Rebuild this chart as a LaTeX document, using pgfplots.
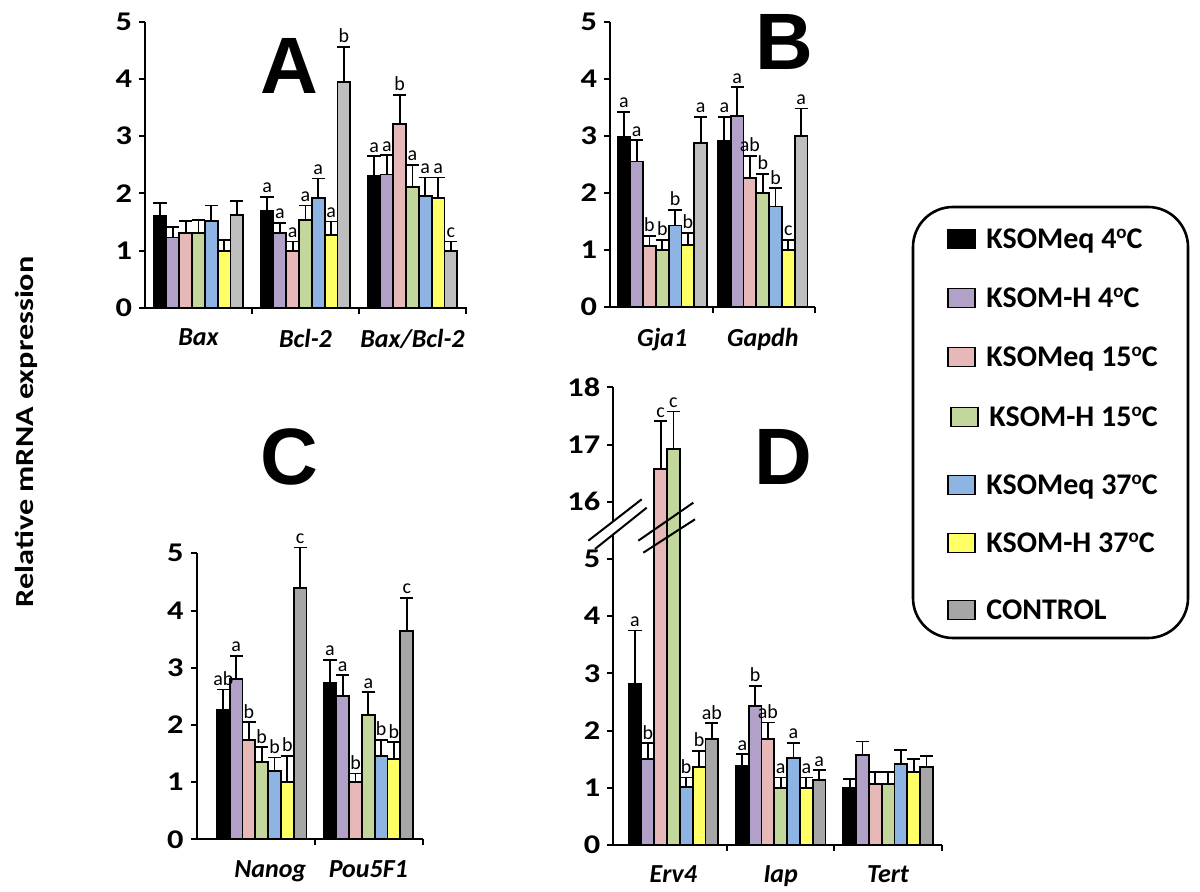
\documentclass[border=0pt]{standalone}
\usepackage{fontspec}
\setmainfont{Carlito}
\newfontfamily\arialfont{Liberation Sans}
\usepackage{pgfplots}
\usepackage{pgfplotstable}
\pgfplotsset{compat=1.18}
\usepackage{graphicx}

\definecolor{c1}{HTML}{000000}
\definecolor{c2}{HTML}{B1A0C7}
\definecolor{c3}{HTML}{E6B9B8}
\definecolor{c4}{HTML}{C3D69B}
\definecolor{c5}{HTML}{8EB4E3}
\definecolor{c6}{HTML}{FFFF66}
\definecolor{c7}{HTML}{A6A6A6}
\definecolor{c7l}{HTML}{BEBEBE}

\newcommand{\degC}{\raisebox{5.2pt}{\fontsize{9.5}{9.5}\selectfont o}C}
\newcommand{\sx}[1]{\scalebox{1.2}[1]{#1}}

% columns: v = mean, e = upper error, l = letter
\pgfplotstableread{
x v1 e1 l1 v2 e2 l2 v3 e3 l3 v4 e4 l4 v5 e5 l5 v6 e6 l6 v7 e7 l7
0 1.60 0.23 {} 1.23 0.18 {} 1.31 0.21 {} 1.31 0.23 {} 1.52 0.27 {} 1.00 0.19 {} 1.62 0.25 {}
1 1.70 0.24 a 1.31 0.18 a 1.00 0.16 a 1.54 0.25 a 1.92 0.34 a 1.28 0.23 a 3.95 0.61 b
2 2.30 0.35 a 2.33 0.34 a 3.21 0.51 b 2.12 0.38 a 1.95 0.33 a 1.92 0.36 a 1.00 0.16 c
}\tabA
\pgfplotstableread{
x v1 e1 l1 v2 e2 l2 v3 e3 l3 v4 e4 l4 v5 e5 l5 v6 e6 l6 v7 e7 l7
0 2.98 0.44 a 2.55 0.37 a 1.07 0.18 b 1.00 0.18 b 1.43 0.27 b 1.09 0.21 b 2.88 0.45 a
1 2.91 0.42 a 3.35 0.50 a 2.26 0.39 ab 2.00 0.33 b 1.76 0.32 b 1.00 0.18 c 3.00 0.48 a
}\tabB
\pgfplotstableread{
x v1 e1 l1 v2 e2 l2 v3 e3 l3 v4 e4 l4 v5 e5 l5 v6 e6 l6 v7 e7 l7
0 2.27 0.35 ab 2.80 0.41 a 1.74 0.31 b 1.35 0.26 b 1.20 0.23 b 1.00 0.46 b 4.40 0.70 c
1 2.73 0.41 a 2.51 0.36 a 1.00 0.15 b 2.17 0.40 a 1.46 0.28 b 1.40 0.30 b 3.64 0.58 c
}\tabC
\pgfplotstableread{
x v1 e1 l1 v2 e2 l2 v3 e3 l3 v4 e4 l4 v5 e5 l5 v6 e6 l6 v7 e7 l7
0 2.82 0.93 a 1.51 0.27 b 16.58 0.83 c 16.92 0.66 c 1.01 0.17 b 1.36 0.29 b 1.85 0.28 ab
1 1.39 0.20 a 2.43 0.35 b 1.85 0.29 ab 1.00 0.18 a 1.52 0.27 a 1.00 0.18 a 1.14 0.17 a
2 1.00 0.16 {} 1.57 0.24 {} 1.07 0.20 {} 1.07 0.20 {} 1.41 0.25 {} 1.28 0.23 {} 1.37 0.19 {}
}\tabD

\pgfplotsset{
  panel/.style={
    scale only axis, clip=false,
    axis lines=left, axis line style={line width=1pt,-},
    ymin=0, ybar=0pt, bar width=6.4pt,
    tick align=outside, major tick length=3pt,
    tick style={black, line width=1pt},
    yticklabel style={font=\bfseries\fontsize{13.5}{13.5}\selectfont},
    /pgf/number format/assume math mode=true,
    xticklabels={{},{},{},{}},
    extra x tick style={major tick length=0pt,
      xticklabel style={font=\bfseries\itshape\fontsize{13}{13}\selectfont, yshift=-7pt}},
    nodes near coords, point meta=explicit symbolic,
    every node near coord/.append style={font=\fontsize{10}{10}\selectfont,
      anchor=south, inner sep=1.5pt, yshift=\myerr*28.6pt},
  },
  barstyle/.style={draw=black, line width=0.9pt,
    error bars/.cd, y dir=plus, y explicit,
    error bar style={line width=0.9pt, black},
    error mark options={rotate=90, mark size=3.3pt, line width=0.9pt, black}},
}

\newcommand{\ser}[3]{%
  \addplot[fill=#2, visualization depends on={\thisrow{e#1} \as \myerr}, barstyle]
    table[x=x, y=v#1, y error=e#1, meta=l#1]{#3};}
\newcommand{\serD}[3]{%
  \addplot[fill=#2, visualization depends on={\thisrow{e#1} \as \myerr}, barstyle]
    table[x=x, y expr={\thisrow{v#1}>10 ? \thisrow{v#1}-10 : \thisrow{v#1}}, y error=e#1, meta=l#1]{#3};}
\newcommand{\allser}[2]{%
  \ser{1}{c1}{#1}\ser{2}{c2}{#1}\ser{3}{c3}{#1}\ser{4}{c4}{#1}%
  \ser{5}{c5}{#1}\ser{6}{c6}{#1}\ser{7}{#2}{#1}}

\begin{document}
\begin{tikzpicture}
\useasboundingbox (0,0) rectangle (600pt,-446pt);

% Panel A
\begin{axis}[panel, at={(72.5pt,-154pt)}, anchor=south west,
  width=161pt, height=143.15pt, xmin=-0.5, xmax=2.51, ymax=5,
  ytick={0,1,2,3,4,5}, yticklabels={\sx0,\sx1,\sx2,\sx3,\sx4,\sx5},
  xtick={0.5,1.5,2.5},
  extra x ticks={0,1,2}, extra x tick labels={Bax,Bcl-2,Bax/Bcl-2}]
\allser{\tabA}{c7l}
\end{axis}

% Panel B
\begin{axis}[panel, at={(305pt,-153.5pt)}, anchor=south west,
  width=102.5pt, height=142.65pt, xmin=-0.52, xmax=1.52, ymax=5,
  ytick={0,1,2,3,4,5}, yticklabels={\sx0,\sx1,\sx2,\sx3,\sx4,\sx5},
  xtick={0.5,1.52},
  extra x ticks={0,1}, extra x tick labels={Gja1,Gapdh}]
\allser{\tabB}{c7l}
\end{axis}

% Panel C
\begin{axis}[panel, at={(98.35pt,-419.65pt)}, anchor=south west,
  width=113pt, height=143pt, xmin=-0.61, xmax=1.51, ymax=5,
  ytick={0,1,2,3,4,5}, yticklabels={\sx0,\sx1,\sx2,\sx3,\sx4,\sx5},
  xtick={0.5,1.51},
  extra x ticks={0.08,1}, extra x tick labels={Nanog,Pou5F1}]
\allser{\tabC}{c7}
\end{axis}

% Panel D (broken axis: plotted 6,7,8 = 16,17,18)
\begin{axis}[panel, at={(306.65pt,-422.5pt)}, anchor=south west,
  width=164.2pt, height=228.8pt, xmin=-0.56, xmax=2.5, ymax=8,
  ytick={0,1,2,3,4,5,6,7,8},
  yticklabels={\sx0,\sx1,\sx2,\sx3,\sx4,\sx5,\sx{16},\sx{17},\sx{18}},
  xtick={0.5,1.5,2.5},
  extra x ticks={0,1,2}, extra x tick labels={Erv4,Iap,Tert}]
\serD{1}{c1}{\tabD}\serD{2}{c2}{\tabD}\serD{3}{c3}{\tabD}\serD{4}{c4}{\tabD}
\serD{5}{c5}{\tabD}\serD{6}{c6}{\tabD}\serD{7}{c7}{\tabD}
\end{axis}

\begin{scope}[x=0.5pt, y=-0.5pt]
  % axis break marks
  \fill[white] (588.3,540.7) -- (641.7,499.3) -- (646.7,507.7) -- (595,549) -- cycle;
  \draw[line width=1pt] (588.3,540.7) -- (641.7,499.3);
  \draw[line width=1pt] (595,549) -- (646.7,507.7);
  \draw[line width=1pt] (638.3,540.7) -- (693.3,502.7);
  \draw[line width=1pt] (643.3,552.7) -- (695,519.3);

  % panel letters
  \begin{scope}[every node/.style={font=\arialfont\bfseries\fontsize{40}{40}\selectfont, inner sep=0pt}]
  \node at (289,66) {A};
  \node at (784,41.5) {B};
  \node at (289,456.5) {C};
  \node at (783.5,456.5) {D};
  \end{scope}

  % y label
  \node[rotate=90, font=\bfseries\fontsize{13}{13}\selectfont] at (26.7,431.7)
    {\scalebox{1.24}[1]{Relative mRNA expression}};

  % legend
  \draw[line width=1.3pt, rounded corners=20pt] (913,207) rectangle (1188,638);
  \begin{scope}[every node/.style={anchor=base west, inner sep=0pt, font=\bfseries\fontsize{15}{15}\selectfont}]
  \draw[line width=0.8pt, fill=c1] (948,229.5) rectangle (975,248.5);
  \node at (986,248.5) {KSOMeq 4\degC};
  \draw[line width=0.8pt, fill=c2] (948,288.5) rectangle (975,307.5);
  \node at (986,307.5) {KSOM-H 4\degC};
  \draw[line width=0.8pt, fill=c3] (948,347.5) rectangle (975,366.5);
  \node at (986,366.5) {KSOMeq 15\degC};
  \draw[line width=0.8pt, fill=c4] (951,407.5) rectangle (978,426.5);
  \node at (989,426.5) {KSOM-H 15\degC};
  \draw[line width=0.8pt, fill=c5] (948,475.5) rectangle (975,494.5);
  \node at (986,494.5) {KSOMeq 37\degC};
  \draw[line width=0.8pt, fill=c6] (948,533.5) rectangle (975,552.5);
  \node at (986,552.5) {KSOM-H 37\degC};
  \draw[line width=0.8pt, fill=c7] (948,600.5) rectangle (975,619.5);
  \node at (986,619.5) {CONTROL};
  \end{scope}
\end{scope}
\end{tikzpicture}
\end{document}
